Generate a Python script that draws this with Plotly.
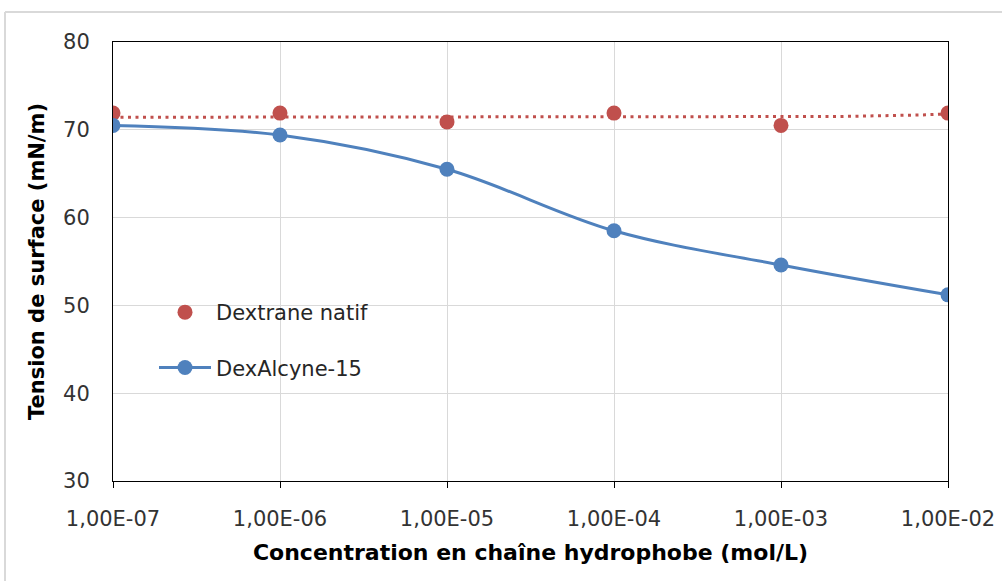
import numpy as np
import plotly.graph_objects as go

# Data
concentrations = [1e-7, 1e-6, 1e-5, 1e-4, 1e-3, 1e-2]
tick_labels = ["1,00E-07", "1,00E-06", "1,00E-05", "1,00E-04", "1,00E-03", "1,00E-02"]
dextrane_natif = [71.9, 71.9, 70.9, 71.9, 70.5, 71.9]
dexalcyne_15 = [70.5, 69.4, 65.5, 58.5, 54.6, 51.2]

RED = "#C0504D"
BLUE = "#4F81BD"
FONT = "DejaVu Sans, Verdana, sans-serif"

# Linear trendline (Excel-style, fitted on linear x) for Dextrane natif
coef = np.polyfit(concentrations, dextrane_natif, 1)
xt = np.logspace(np.log10(concentrations[0]), np.log10(concentrations[-1]), 300)
yt = np.polyval(coef, xt)

fig = go.Figure()

fig.add_trace(go.Scatter(
    x=xt, y=yt, mode="lines", showlegend=False, hoverinfo="skip",
    line=dict(color=RED, width=3, dash="3px,4.5px"),
))
fig.add_trace(go.Scatter(
    x=concentrations, y=dextrane_natif, mode="markers", name="Dextrane natif",
    marker=dict(color=RED, size=15), legendgroup="a",
))
fig.add_trace(go.Scatter(
    x=concentrations, y=dexalcyne_15, mode="lines+markers", name="DexAlcyne-15",
    line=dict(color=BLUE, width=3, shape="spline", smoothing=1),
    marker=dict(color=BLUE, size=15), legendgroup="b",
))

L, R, T, B = 113, 54, 42, 100
W, H = 1002, 581
pw, ph = W - L - R, H - T - B

# outer chart frame (top and left edges visible in the reference)
fx0, fy_top = (5 - L) / pw, (H - 12 - B) / ph
fx1, fy_bot = (W + 20 - L) / pw, (H + 20 - B) / ph * -1

fig.update_layout(
    width=W, height=H,
    margin=dict(l=L, r=R, t=T, b=B),
    paper_bgcolor="white", plot_bgcolor="white",
    font=dict(family=FONT, color="#333333", size=21),
    legend=dict(
        x=(154 - L) / pw, y=(481 - 292) / ph, xanchor="left", yanchor="top",
        bgcolor="rgba(0,0,0,0)", font=dict(family=FONT, size=21, color="#262626"),
        traceorder="grouped", tracegroupgap=25, itemwidth=52,
    ),
    shapes=[
        dict(type="line", xref="paper", yref="paper", x0=fx0, x1=fx1, y0=fy_top, y1=fy_top,
             line=dict(color="#D9D9D9", width=2), layer="below"),
        dict(type="line", xref="paper", yref="paper", x0=fx0, x1=fx0, y0=fy_top, y1=fy_bot,
             line=dict(color="#D9D9D9", width=2), layer="below"),
    ],
)

fig.update_xaxes(
    type="log", range=[np.log10(concentrations[0]), np.log10(concentrations[-1])],
    tickvals=concentrations, ticktext=tick_labels, automargin=False,
    showgrid=True, gridcolor="#D9D9D9", gridwidth=1,
    showline=True, linecolor="black", linewidth=1, mirror=True,
    ticks="outside", ticklen=6, tickcolor="black", ticklabelstandoff=13,
    tickfont=dict(family=FONT, size=21, color="#333333"),
    title=dict(text="<b>Concentration en chaîne hydrophobe (mol/L)</b>",
               font=dict(family=FONT, size=22, color="#000000"), standoff=14),
    zeroline=False,
)
fig.update_yaxes(
    range=[30, 80], dtick=10, tick0=30, automargin=False,
    showgrid=True, gridcolor="#D9D9D9", gridwidth=1,
    showline=True, linecolor="black", linewidth=1, mirror=True,
    ticks="", ticklabelstandoff=18,
    tickfont=dict(family=FONT, size=21, color="#333333"),
    title=dict(text="<b>Tension de surface (mN/m)</b>",
               font=dict(family=FONT, size=21, color="#000000"), standoff=12),
    zeroline=False,
)

fig.write_html("out.html", config={"displayModeBar": False},
               post_script="document.body.style.margin='0';")
